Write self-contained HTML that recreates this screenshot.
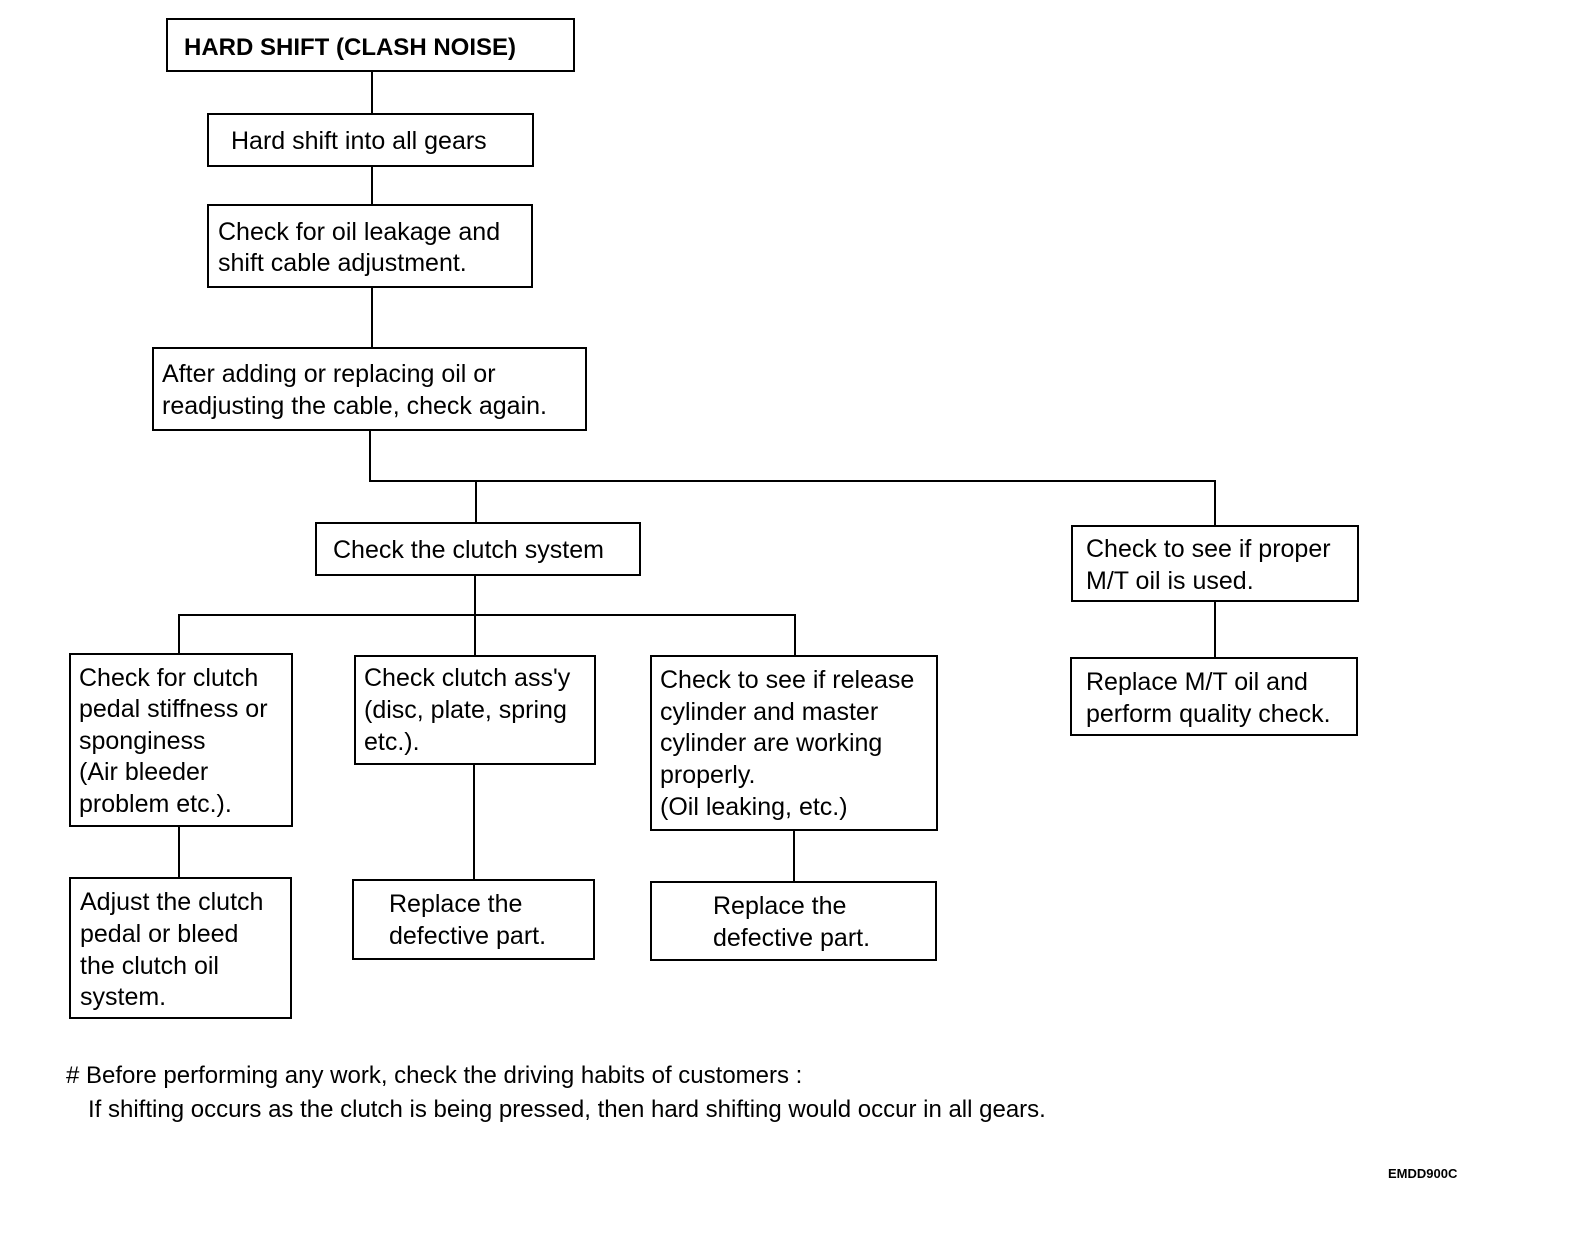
<!DOCTYPE html>
<html><head><meta charset="utf-8"><style>
html,body{margin:0;padding:0;background:#fff}
svg{display:block}
text{font-family:"Liberation Sans",Arial,sans-serif;font-size:25px;fill:#000}
</style></head><body>
<svg width="1584" height="1236" viewBox="0 0 1584 1236" xmlns="http://www.w3.org/2000/svg">
<g fill="none" stroke="#000" stroke-width="2">
<rect x="167" y="19" width="407" height="52"/>
<rect x="208" y="114" width="325" height="52"/>
<rect x="208" y="205" width="324" height="82"/>
<rect x="153" y="348" width="433" height="82"/>
<rect x="316" y="523" width="324" height="52"/>
<rect x="1072" y="526" width="286" height="75"/>
<rect x="1071" y="658" width="286" height="77"/>
<rect x="70" y="654" width="222" height="172"/>
<rect x="355" y="656" width="240" height="108"/>
<rect x="651" y="656" width="286" height="174"/>
<rect x="70" y="878" width="221" height="140"/>
<rect x="353" y="880" width="241" height="79"/>
<rect x="651" y="882" width="285" height="78"/>
<path d="M372 71V114M372 166V205M372 287V348M370 430V481H1215V526M476 481V523M1215 601V658M475 575V615M179 654V615H795V656M475 615V656M179 826V878M474 764V880M794 830V882"/>
</g>
<text x="184" y="55" font-weight="bold" style="font-size:24px">HARD SHIFT (CLASH NOISE)</text>
<text x="231" y="149">Hard shift into all gears</text>
<text x="218" y="240">Check for oil leakage and</text>
<text x="218" y="271">shift cable adjustment.</text>
<text x="162" y="382">After adding or replacing oil or</text>
<text x="162" y="414">readjusting the cable, check again.</text>
<text x="333" y="558">Check the clutch system</text>
<text x="1086" y="557">Check to see if proper</text>
<text x="1086" y="589">M/T oil is used.</text>
<text x="1086" y="690">Replace M/T oil and</text>
<text x="1086" y="722">perform quality check.</text>
<text x="79" y="686">Check for clutch</text>
<text x="79" y="717">pedal stiffness or</text>
<text x="79" y="749">sponginess</text>
<text x="79" y="780">(Air bleeder</text>
<text x="79" y="812">problem etc.).</text>
<text x="364" y="686">Check clutch ass'y</text>
<text x="364" y="718">(disc, plate, spring</text>
<text x="364" y="750">etc.).</text>
<text x="660" y="688">Check to see if release</text>
<text x="660" y="720">cylinder and master</text>
<text x="660" y="751">cylinder are working</text>
<text x="660" y="783">properly.</text>
<text x="660" y="815">(Oil leaking, etc.)</text>
<text x="80" y="910">Adjust the clutch</text>
<text x="80" y="942">pedal or bleed</text>
<text x="80" y="974">the clutch oil</text>
<text x="80" y="1005">system.</text>
<text x="389" y="912">Replace the</text>
<text x="389" y="944">defective part.</text>
<text x="713" y="914">Replace the</text>
<text x="713" y="946">defective part.</text>
<text x="66" y="1083" style="font-size:24px"># Before performing any work, check the driving habits of customers :</text>
<text x="88" y="1117" style="font-size:24px">If shifting occurs as the clutch is being pressed, then hard shifting would occur in all gears.</text>
<text x="1388" y="1178" font-weight="bold" style="font-size:13px">EMDD900C</text>
</svg>
</body></html>
